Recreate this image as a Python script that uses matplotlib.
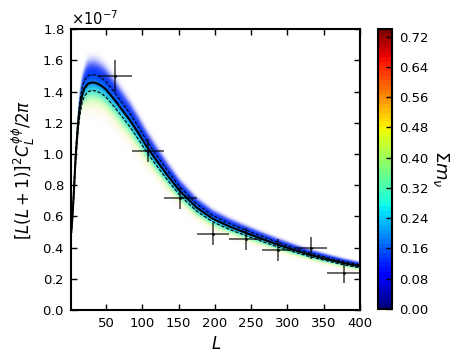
import numpy as np
import matplotlib
matplotlib.use('Agg')
import matplotlib.pyplot as plt
from matplotlib import colors, colorbar

# ---------------- data (units of 1e-7) ----------------
L_curve = np.array([2, 3, 4, 5, 6, 7, 8, 10, 12, 14, 17, 20, 25, 30, 35, 40, 45, 50, 62, 70,
                    83, 95, 107, 120, 135, 152, 175, 197, 220, 242, 265, 287, 310, 332, 355, 377, 400])
cl_fid = np.array([0.50, 0.56, 0.63, 0.71, 0.80, 0.89, 0.98, 1.11, 1.22, 1.30, 1.38, 1.42, 1.45, 1.458,
                   1.456, 1.447, 1.432, 1.413, 1.345, 1.295, 1.215, 1.13, 1.04, 0.955, 0.86, 0.76,
                   0.655, 0.585, 0.535, 0.495, 0.455, 0.418, 0.383, 0.352, 0.325, 0.301, 0.28])
cl_upper = np.array([0.518, 0.580, 0.652, 0.735, 0.828, 0.921, 1.014, 1.149, 1.263, 1.346, 1.428, 1.470,
                     1.501, 1.509, 1.507, 1.498, 1.482, 1.462, 1.392, 1.340, 1.258, 1.170, 1.076, 0.988,
                     0.890, 0.787, 0.678, 0.605, 0.554, 0.512, 0.471, 0.433, 0.396, 0.364, 0.336, 0.312, 0.290])
cl_lower = np.array([0.483, 0.540, 0.608, 0.685, 0.772, 0.859, 0.946, 1.071, 1.177, 1.255, 1.332, 1.370,
                     1.399, 1.407, 1.405, 1.396, 1.382, 1.364, 1.298, 1.250, 1.172, 1.090, 1.004, 0.922,
                     0.830, 0.733, 0.632, 0.565, 0.516, 0.478, 0.439, 0.403, 0.370, 0.340, 0.314, 0.290, 0.270])

L_data = np.array([62.5, 107.5, 152.5, 197.5, 242.5, 287.5, 332.5, 377.5])
L_halfwidth = np.array([22.5, 22.5, 22.5, 22.5, 22.5, 22.5, 22.5, 22.5])
cl_data = np.array([1.50, 1.02, 0.72, 0.487, 0.453, 0.384, 0.397, 0.239])
cl_err = np.array([0.10, 0.074, 0.07, 0.07, 0.07, 0.068, 0.07, 0.066])

mnu_min, mnu_max = 0.06, 0.74
cbar_ticks = [0.00, 0.08, 0.16, 0.24, 0.32, 0.40, 0.48, 0.56, 0.64, 0.72]
x_ticks = [50, 100, 150, 200, 250, 300, 350, 400]
y_ticks = [0.0, 0.2, 0.4, 0.6, 0.8, 1.0, 1.2, 1.4, 1.6, 1.8]

scale = 1e-7

# ---------------- figure ----------------
fig = plt.figure(figsize=(4.63, 3.6), dpi=100)
ax = fig.add_axes([0.154, 0.139, 0.6235, 0.78])
cax = fig.add_axes([0.816, 0.142, 0.0315, 0.777])

cmap = plt.get_cmap('jet')

# band of curves coloured by neutrino mass (visual rendering)
Lg = np.linspace(2, 400, 800)
yg = np.linspace(0, 1.8, 720)
Cg = np.interp(Lg, L_curve, cl_fid)
r = yg[:, None] / Cg[None, :]
gL = np.clip((Lg - 12.0) / 12.0, -0.9, 1.0)[None, :]
mg = np.linspace(mnu_min, mnu_max, 90)
D = np.zeros_like(r)
acc = np.zeros(r.shape + (3,))
for m in mg:
    w = np.exp(-(m - mnu_min) ** 2 / (2 * 0.165 ** 2))
    mu = 1.0 + (0.042 - 0.33 * (m - mnu_min)) * gL
    sig_r = np.where(r > mu, 0.034, 0.02)
    n = w * np.exp(-(r - mu) ** 2 / (2 * sig_r ** 2))
    D += n
    acc += n[..., None] * np.array(cmap(m / mnu_max)[:3])[None, None, :]
rgb = acc / np.maximum(D, 1e-30)[..., None]
Dn = D / np.percentile(D, 99.5)
alpha = np.clip(1 - np.exp(-4.0 * Dn), 0, 1)
img = np.dstack([rgb, alpha])
ax.imshow(img, extent=[2, 400, 0, 1.8 * scale], origin='lower', aspect='auto',
          interpolation='bilinear', zorder=1)

ax.plot(L_curve, cl_fid * scale, color='k', lw=1.5, zorder=3)
ax.plot(L_curve, cl_upper * scale, color='k', lw=0.8, ls=(0, (3, 1.5)), zorder=3)
ax.plot(L_curve, cl_lower * scale, color='k', lw=0.8, ls=(0, (3, 1.5)), zorder=3)

ax.errorbar(L_data, cl_data * scale, xerr=L_halfwidth, yerr=cl_err * scale,
            fmt='.', ms=2.5, color='k', ecolor='k', elinewidth=1.2, alpha=0.7,
            capsize=0, zorder=4)

ax.set_xlim(2, 400)
ax.set_ylim(0, 1.8 * scale)
ax.set_xticks(x_ticks)
ax.set_yticks([v * scale for v in y_ticks])
ax.ticklabel_format(axis='y', style='sci', scilimits=(0, 0), useMathText=True)
ax.tick_params(direction='in', top=True, right=True, length=4, width=1, labelsize=9.5, pad=5)
for s in ax.spines.values():
    s.set_linewidth(1.5)
ax.yaxis.get_offset_text().set_fontsize(10.5)
ax.set_xlabel(r'$L$', fontsize=12)
ax.set_ylabel(r'$[L(L+1)]^2C_L^{\phi\phi}/2\pi$', fontsize=12)

cm_disc = plt.get_cmap('jet', 60)
cb = colorbar.ColorbarBase(cax, cmap=cm_disc, norm=colors.Normalize(0, mnu_max),
                           orientation='vertical')
cb.set_ticks(cbar_ticks)
cb.set_ticklabels(['%.2f' % t for t in cbar_ticks])
cb.outline.set_linewidth(1.5)
cax.tick_params(direction='in', length=4, width=1, labelsize=9.5, pad=5)
cb.set_label(r'$\Sigma m_\nu$', rotation=270, fontsize=13, labelpad=16)

fig.savefig('out.png', dpi=100)
